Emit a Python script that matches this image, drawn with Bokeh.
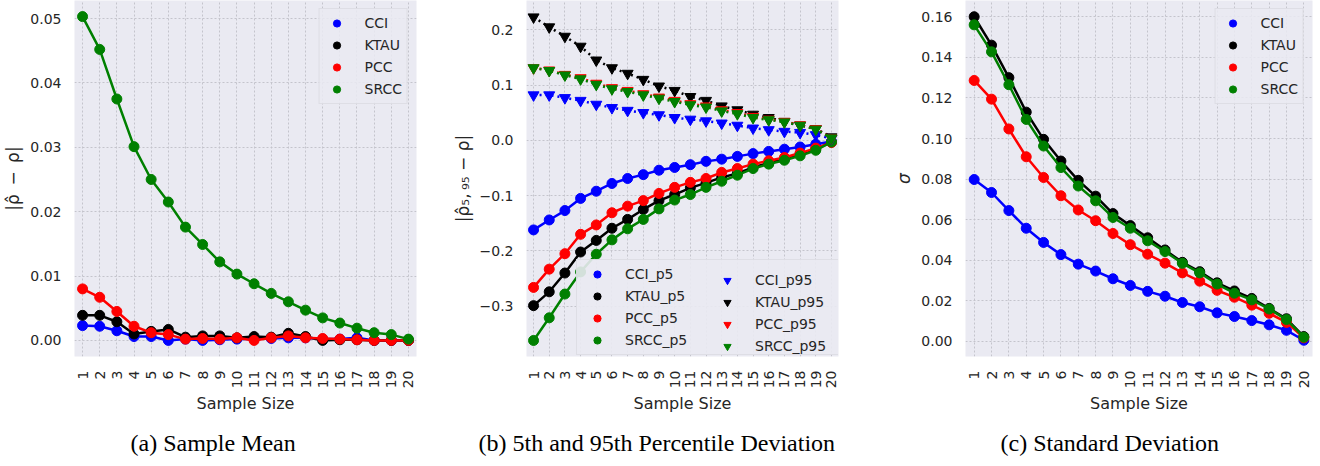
import math
from bokeh.plotting import figure
from bokeh.layouts import row
from bokeh.models import Range1d, FixedTicker, Legend, LegendItem, Title
from bokeh.embed import file_html
from bokeh.resources import INLINE

# ---------------- data ----------------
sample_sizes = [1, 2, 3, 4, 5, 6, 7, 8, 9, 10, 11, 12, 13, 14, 15, 16, 17, 18, 19, 20]
x_tick_labels = ["1", "2", "3", "4", "5", "6", "7", "8", "9", "10",
                 "11", "12", "13", "14", "15", "16", "17", "18", "19", "20"]
metrics = ["CCI", "KTAU", "PCC", "SRCC"]

# (a) sample mean |rho_hat - rho|
mean_cci = [0.0023, 0.0022, 0.0015, 0.0006, 0.0006, 0.0000, 0.0002, 0.0000, 0.0001, 0.0002,
            0.0002, 0.0003, 0.0004, 0.0004, 0.0002, 0.0002, 0.0004, 0.0000, 0.0000, 0.0000]
mean_ktau = [0.0039, 0.0039, 0.0029, 0.0010, 0.0014, 0.0017, 0.0005, 0.0007, 0.0007, 0.0004,
             0.0006, 0.0005, 0.0011, 0.0006, 0.0000, 0.0001, 0.0001, 0.0000, 0.0000, 0.0000]
mean_pcc = [0.0080, 0.0067, 0.0045, 0.0022, 0.0012, 0.0009, 0.0002, 0.0003, 0.0002, 0.0004,
            0.0000, 0.0004, 0.0007, 0.0004, 0.0003, 0.0002, 0.0001, 0.0000, 0.0000, 0.0000]
mean_srcc = [0.0503, 0.0452, 0.0375, 0.0301, 0.0250, 0.0215, 0.0176, 0.0149, 0.0122, 0.0103,
             0.0088, 0.0073, 0.0060, 0.0047, 0.0035, 0.0027, 0.0019, 0.0012, 0.0009, 0.0002]

# (b) 5th / 95th percentile deviation
p5_cci = [-0.162, -0.144, -0.127, -0.105, -0.092, -0.078, -0.069, -0.062, -0.054, -0.049,
          -0.044, -0.038, -0.034, -0.029, -0.024, -0.020, -0.016, -0.012, -0.007, -0.002]
p5_ktau = [-0.299, -0.274, -0.240, -0.202, -0.181, -0.159, -0.143, -0.125, -0.109, -0.098,
           -0.086, -0.077, -0.067, -0.060, -0.049, -0.041, -0.034, -0.025, -0.016, -0.003]
p5_pcc = [-0.266, -0.233, -0.205, -0.170, -0.153, -0.131, -0.119, -0.109, -0.096, -0.085,
          -0.076, -0.069, -0.058, -0.051, -0.043, -0.037, -0.031, -0.023, -0.014, -0.004]
p5_srcc = [-0.362, -0.321, -0.278, -0.238, -0.206, -0.180, -0.160, -0.143, -0.124, -0.108,
           -0.098, -0.085, -0.074, -0.063, -0.051, -0.043, -0.036, -0.028, -0.018, -0.003]
p95_cci = [0.082, 0.082, 0.077, 0.072, 0.065, 0.059, 0.054, 0.050, 0.046, 0.041,
           0.038, 0.035, 0.031, 0.027, 0.022, 0.019, 0.016, 0.014, 0.010, 0.003]
p95_ktau = [0.223, 0.205, 0.188, 0.170, 0.145, 0.131, 0.121, 0.110, 0.098, 0.090,
            0.079, 0.072, 0.062, 0.055, 0.047, 0.041, 0.034, 0.027, 0.021, 0.006]
p95_pcc = [0.131, 0.127, 0.119, 0.113, 0.103, 0.095, 0.090, 0.084, 0.078, 0.072,
           0.066, 0.062, 0.055, 0.050, 0.043, 0.038, 0.034, 0.028, 0.021, 0.004]
p95_srcc = [0.131, 0.126, 0.118, 0.111, 0.101, 0.093, 0.088, 0.082, 0.076, 0.070,
            0.064, 0.060, 0.053, 0.048, 0.041, 0.037, 0.033, 0.027, 0.020, 0.004]

# (c) standard deviation
std_cci = [0.0798, 0.0734, 0.0645, 0.0558, 0.0488, 0.0428, 0.0381, 0.0347, 0.0309, 0.0276,
           0.0247, 0.0223, 0.0192, 0.0171, 0.0141, 0.0123, 0.0103, 0.0082, 0.0055, 0.0006]
std_ktau = [0.1600, 0.1460, 0.1300, 0.1130, 0.0996, 0.0889, 0.0794, 0.0716, 0.0630, 0.0571,
            0.0511, 0.0451, 0.0390, 0.0344, 0.0289, 0.0249, 0.0212, 0.0163, 0.0112, 0.0024]
std_pcc = [0.1286, 0.1194, 0.1047, 0.0910, 0.0808, 0.0718, 0.0648, 0.0595, 0.0532, 0.0477,
           0.0430, 0.0386, 0.0338, 0.0297, 0.0252, 0.0218, 0.0179, 0.0139, 0.0094, 0.0018]
std_srcc = [0.1560, 0.1427, 0.1265, 0.1094, 0.0963, 0.0857, 0.0766, 0.0693, 0.0611, 0.0558,
            0.0496, 0.0443, 0.0385, 0.0338, 0.0283, 0.0238, 0.0205, 0.0160, 0.0108, 0.0021]

mean_ticks = [0.0, 0.01, 0.02, 0.03, 0.04, 0.05]
mean_tick_labels = ["0.00", "0.01", "0.02", "0.03", "0.04", "0.05"]
pct_ticks = [-0.3, -0.2, -0.1, 0.0, 0.1, 0.2]
pct_tick_labels = ["\u22120.3", "\u22120.2", "\u22120.1", "0.0", "0.1", "0.2"]
std_ticks = [0.0, 0.02, 0.04, 0.06, 0.08, 0.10, 0.12, 0.14, 0.16]
std_tick_labels = ["0.00", "0.02", "0.04", "0.06", "0.08", "0.10", "0.12", "0.14", "0.16"]

captions = ["(a) Sample Mean", "(b) 5th and 95th Percentile Deviation", "(c) Standard Deviation"]
y_labels = ["|\u03c1\u0302\u2002\u2212\u2002\u03c1|",
            "|\u03c1\u0302\u2085,\u2009\u2089\u2085 \u2212 \u03c1|",
            "\u03c3"]

colors = ["blue", "black", "red", "green"]

TXT = "#262626"
BG = "#EAEAF2"


def make_fig(frame_w, left, right, xr, yr, ticks, tick_labels, ylabel, caption, cap_offset):
    p = figure(frame_width=frame_w, frame_height=356,
               min_border_left=left, min_border_right=right,
               min_border_top=0, min_border_bottom=40,
               x_range=Range1d(*xr), y_range=Range1d(*yr),
               output_backend="svg", toolbar_location=None,
               background_fill_color=BG, border_fill_color="white",
               outline_line_color=None)
    for ax in (p.xaxis[0], p.yaxis[0]):
        ax.axis_line_color = None
        ax.major_tick_line_color = None
        ax.minor_tick_line_color = None
        ax.major_label_text_font = "DejaVu Sans"
        ax.major_label_text_font_size = "14px"
        ax.major_label_text_color = TXT
        ax.axis_label_text_font = "DejaVu Sans"
        ax.axis_label_text_font_size = "16px"
        ax.axis_label_text_font_style = "normal"
        ax.axis_label_text_color = TXT
    p.xaxis.ticker = FixedTicker(ticks=sample_sizes)
    p.xaxis.major_label_overrides = {v: s for v, s in zip(sample_sizes, x_tick_labels)}
    p.xaxis.major_label_orientation = math.pi / 2
    p.xaxis.major_label_standoff = 8
    p.xaxis.axis_label = "Sample Size"
    p.xaxis.axis_label_standoff = 3
    p.yaxis.ticker = FixedTicker(ticks=ticks)
    p.yaxis.major_label_overrides = {v: s for v, s in zip(ticks, tick_labels)}
    p.yaxis.major_label_standoff = 7
    p.yaxis.axis_label = ylabel
    p.yaxis.axis_label_standoff = 4
    p.yaxis.axis_label_text_font_size = "17px"
    for g in (p.xgrid[0], p.ygrid[0]):
        g.grid_line_color = "#c4c4cc"
        g.grid_line_width = 1
        g.grid_line_dash = "2 2"
    cap = Title(text=caption, align="left", offset=cap_offset, standoff=22,
                text_font="Liberation Serif", text_font_size="24px",
                text_font_style="normal", text_color="black")
    p.add_layout(cap, "below")
    return p


def simple_legend(p, items):
    leg = Legend(items=items, location="top_right", margin=8, padding=5,
                 glyph_width=24, glyph_height=18, label_height=18, spacing=4,
                 label_standoff=16, label_text_font="DejaVu Sans",
                 label_text_font_size="14px", label_text_color=TXT,
                 background_fill_color=BG, background_fill_alpha=0.85,
                 border_line_color="#d2d2d8", border_line_width=1)
    p.add_layout(leg)


# ---------------- (a) ----------------
pa = make_fig(342, 61, 29, (0.53, 20.47), (-0.0025, 0.0528), mean_ticks, mean_tick_labels,
              y_labels[0], captions[0], 56)
items_a = []
for name, ys, c in zip(metrics, [mean_cci, mean_ktau, mean_pcc, mean_srcc], colors):
    pa.line(sample_sizes, ys, line_color=c, line_width=2.5)
    r = pa.scatter(sample_sizes, ys, marker="circle", size=10, fill_color=c, line_color=c)
    items_a.append(LegendItem(label=name, renderers=[r]))
simple_legend(pa, items_a)

# ---------------- (b) ----------------
pb = make_fig(312, 81, 47, (0.55, 20.45), (-0.391, 0.253), pct_ticks, pct_tick_labels,
              y_labels[1], captions[1], -48)
items_p5 = []
items_p95 = []
for name, ys, c in zip(metrics, [p5_cci, p5_ktau, p5_pcc, p5_srcc], colors):
    pb.line(sample_sizes, ys, line_color=c, line_width=2.5)
    r = pb.scatter(sample_sizes, ys, marker="circle", size=10, fill_color=c, line_color=c)
    items_p5.append(LegendItem(label=name + "_p5", renderers=[r]))
for name, ys, c in zip(metrics, [p95_cci, p95_ktau, p95_pcc, p95_srcc], colors):
    pb.line(sample_sizes, ys, line_color=c, line_width=2.5, line_dash="2 4")
    r = pb.scatter(sample_sizes, ys, marker="inverted_triangle", size=11, fill_color=c, line_color=c)
    items_p95.append(LegendItem(label=name + "_p95", renderers=[r]))
leg_b1 = Legend(items=items_p5, location=(50, 1), padding=5,
                glyph_width=30, glyph_height=18, label_height=18, spacing=4,
                label_standoff=13, label_width=208, label_text_font="DejaVu Sans",
                label_text_font_size="14px", label_text_color=TXT,
                background_fill_color=BG, background_fill_alpha=0.9,
                border_line_color="#d2d2d8", border_line_width=1)
leg_b2 = Legend(items=items_p95, location=(186, 1), padding=5,
                glyph_width=30, glyph_height=18, label_height=18, spacing=4,
                label_standoff=13, label_text_font="DejaVu Sans",
                label_text_font_size="14px", label_text_color=TXT,
                background_fill_alpha=0, border_line_color=None)
pb.add_layout(leg_b1)
pb.add_layout(leg_b2)

# ---------------- (c) ----------------
pc = make_fig(347, 80, 5, (0.5, 20.5), (-0.0074, 0.168), std_ticks, std_tick_labels,
              y_labels[2], captions[2], 35)
pc.yaxis.axis_label_text_font_style = "italic"
items_c = []
for name, ys, c in zip(metrics, [std_cci, std_ktau, std_pcc, std_srcc], colors):
    pc.line(sample_sizes, ys, line_color=c, line_width=2.5)
    r = pc.scatter(sample_sizes, ys, marker="circle", size=10, fill_color=c, line_color=c)
    items_c.append(LegendItem(label=name, renderers=[r]))
simple_legend(pc, items_c)

layout = row(pa, pb, pc)
open("out.html", "w").write(file_html(layout, INLINE))
